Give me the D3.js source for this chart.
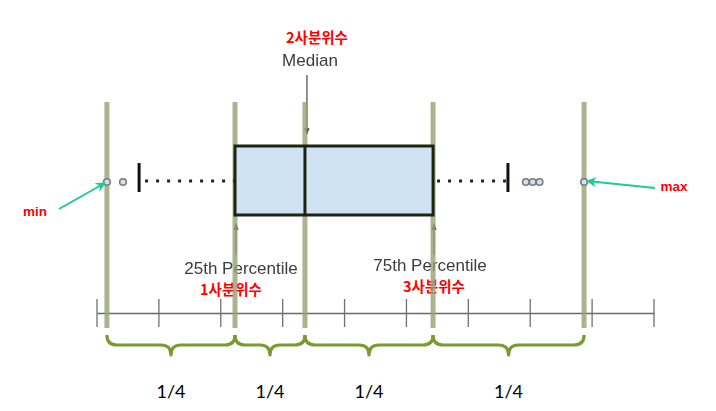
<!DOCTYPE html>
<html><head><meta charset="utf-8">
<script src="https://cdn.jsdelivr.net/npm/d3@7"></script>
<style>html,body{margin:0;padding:0;background:#fff;}svg{display:block;}</style>
</head><body>
<svg id="c" width="716" height="411"></svg>
<script>
// ---- data ----
const tickValues = [0, 1, 2, 3, 4, 5, 6, 7, 8, 9];
const quartileNames = ["min", "q1", "median", "q3", "max"];
const quartileValues = [0.16, 2.23, 3.36, 5.43, 7.87];
const whiskerValues = [0.68, 6.64];
const outlierValues = [0.16, 0.42, 6.93, 7.04, 7.15, 7.87];
const braceLabels = ["1/4", "1/4", "1/4", "1/4"];
const koreanLabels = ["1사분위수", "2사분위수", "3사분위수"];
const englishLabels = ["25th Percentile", "Median", "75th Percentile"];

const svg = d3.select("#c");
const x = d3.scaleLinear().domain([0, 9]).range([97, 654]);
const defs = svg.append("defs");
defs.append("filter").attr("id", "blur").append("feGaussianBlur").attr("stdDeviation", 0.6);
defs.append("marker").attr("id", "ah").attr("viewBox", "0 0 10 10").attr("refX", 9).attr("refY", 5)
  .attr("markerWidth", 5).attr("markerHeight", 5).attr("orient", "auto")
  .append("path").attr("d", "M0,1 L10,5 L0,9 Z").attr("fill", "#444");
defs.append("marker").attr("id", "ahg").attr("viewBox", "0 0 10 10").attr("refX", 9).attr("refY", 5)
  .attr("markerWidth", 5).attr("markerHeight", 5).attr("orient", "auto")
  .append("path").attr("d", "M0,0 L10,5 L0,10 L3,5 Z").attr("fill", "#1dcc92");

const q = quartileValues;
const axisY = 313;

// axis
const axis = d3.axisBottom(x).tickValues(tickValues).tickSize(0).tickFormat("");
const ag = svg.append("g").attr("transform", `translate(0,${axisY})`).call(axis);
ag.select(".domain").attr("stroke", "#6a6a6a").attr("stroke-width", 1.5);
svg.append("g").selectAll("line").data(tickValues).join("line")
  .attr("x1", d => x(d)).attr("x2", d => x(d)).attr("y1", 299).attr("y2", 327)
  .attr("stroke", "#707070").attr("stroke-width", 1.3);

// english labels (blurred gray)
const eng = svg.append("g").attr("filter", "url(#blur)").attr("font-family", "Liberation Sans, Arial, sans-serif")
  .attr("font-size", 17).attr("fill", "#3c3c3c").attr("text-anchor", "middle");
eng.append("text").attr("x", 241).attr("y", 274).text(englishLabels[0]);
eng.append("text").attr("x", 310).attr("y", 66).text(englishLabels[1]);
eng.append("text").attr("x", 430).attr("y", 271).text(englishLabels[2]);

// korean labels
const kor = svg.append("g").attr("font-family", "Noto Sans CJK KR, sans-serif").attr("font-weight", "bold")
  .attr("font-size", 14.5).attr("fill", "#ff0000").attr("text-anchor", "middle");
kor.append("text").attr("x", 231).attr("y", 295).text(koreanLabels[0]);
kor.append("text").attr("x", 317).attr("y", 43).text(koreanLabels[1]);
kor.append("text").attr("x", 434).attr("y", 292).text(koreanLabels[2]);

// pointer arrows (gray)
svg.append("line").attr("x1", x(q[2]) + 2).attr("x2", x(q[2]) + 2).attr("y1", 75).attr("y2", 134)
  .attr("stroke", "#555").attr("stroke-width", 1.3).attr("marker-end", "url(#ah)");
[q[1], q[3]].forEach(v => {
  svg.append("line").attr("x1", x(v) + 1).attr("x2", x(v) + 1).attr("y1", 255).attr("y2", 224)
    .attr("stroke", "#555").attr("stroke-width", 1.3).attr("marker-end", "url(#ah)");
});

// vertical quartile bars
svg.append("g").selectAll("line").data(q).join("line")
  .attr("x1", d => x(d)).attr("x2", d => x(d)).attr("y1", 102).attr("y2", 328)
  .attr("stroke", "#97a073").attr("stroke-opacity", 0.8).attr("stroke-width", 5);

const boxTop = 146, boxBot = 215, midY = 181;

// whisker dotted lines
svg.append("line").attr("x1", x(whiskerValues[0]) + 6).attr("x2", x(q[1])).attr("y1", midY).attr("y2", midY)
  .attr("stroke", "#222").attr("stroke-width", 3).attr("stroke-dasharray", "3,8");
svg.append("line").attr("x1", x(q[3]) + 4).attr("x2", x(whiskerValues[1]) - 2).attr("y1", midY).attr("y2", midY)
  .attr("stroke", "#222").attr("stroke-width", 3).attr("stroke-dasharray", "3,8");
// whisker caps
svg.append("g").selectAll("line").data(whiskerValues).join("line")
  .attr("x1", d => x(d)).attr("x2", d => x(d)).attr("y1", 163).attr("y2", 192)
  .attr("stroke", "#111").attr("stroke-width", 3);

// box
svg.append("rect").attr("x", x(q[1])).attr("y", boxTop).attr("width", x(q[3]) - x(q[1])).attr("height", boxBot - boxTop)
  .attr("fill", "#cfe2f3").attr("stroke", "#1c2410").attr("stroke-width", 3);
svg.append("line").attr("x1", x(q[2])).attr("x2", x(q[2])).attr("y1", boxTop).attr("y2", boxBot)
  .attr("stroke", "#1c2410").attr("stroke-width", 3);

// outliers
svg.append("g").selectAll("circle").data(outlierValues).join("circle")
  .attr("cx", d => x(d)).attr("cy", midY + 1).attr("r", 3.3)
  .attr("fill", "#cfe2f3").attr("stroke", "#7a7a7a").attr("stroke-width", 1.6);

// braces
function brace(x1, x2, y0) {
  const ym = y0 + 10, y1 = y0 + 20, xc = (x1 + x2) / 2, r = 10;
  return `M${x1},${y0} Q${x1},${ym} ${x1 + r},${ym} L${xc - r},${ym} Q${xc},${ym} ${xc},${y1} ` +
         `Q${xc},${ym} ${xc + r},${ym} L${x2 - r},${ym} Q${x2},${ym} ${x2},${y0}`;
}
const segs = d3.pairs(q);
svg.append("g").selectAll("path").data(segs).join("path")
  .attr("d", d => brace(x(d[0]), x(d[1]), 335))
  .attr("fill", "none").attr("stroke", "#7b9a30").attr("stroke-width", 3.2).attr("stroke-linejoin", "round");
svg.append("g").selectAll("text").data(segs).join("text")
  .attr("x", d => (x(d[0]) + x(d[1])) / 2).attr("y", 398).attr("text-anchor", "middle")
  .attr("font-family", "Lato, Carlito, sans-serif").attr("font-size", 18).attr("fill", "#000")
  .text((d, i) => braceLabels[i]);

// min / max labels and green arrows
svg.append("text").attr("x", 35).attr("y", 216).attr("text-anchor", "middle")
  .attr("font-family", "Liberation Sans, Arial, sans-serif").attr("font-weight", "bold").attr("font-size", 13.5)
  .attr("fill", "#ff0000").text(quartileNames[0]);
svg.append("text").attr("x", 674).attr("y", 191).attr("text-anchor", "middle")
  .attr("font-family", "Liberation Sans, Arial, sans-serif").attr("font-weight", "bold").attr("font-size", 13.5)
  .attr("fill", "#ff0000").text(quartileNames[4]);
svg.append("line").attr("x1", 59).attr("y1", 209).attr("x2", x(q[0]) - 2).attr("y2", 183)
  .attr("stroke", "#1dcc92").attr("stroke-width", 2).attr("marker-end", "url(#ahg)");
svg.append("line").attr("x1", 655).attr("y1", 188).attr("x2", x(q[4]) + 3).attr("y2", 181)
  .attr("stroke", "#1dcc92").attr("stroke-width", 2).attr("marker-end", "url(#ahg)");
</script>
</body></html>
